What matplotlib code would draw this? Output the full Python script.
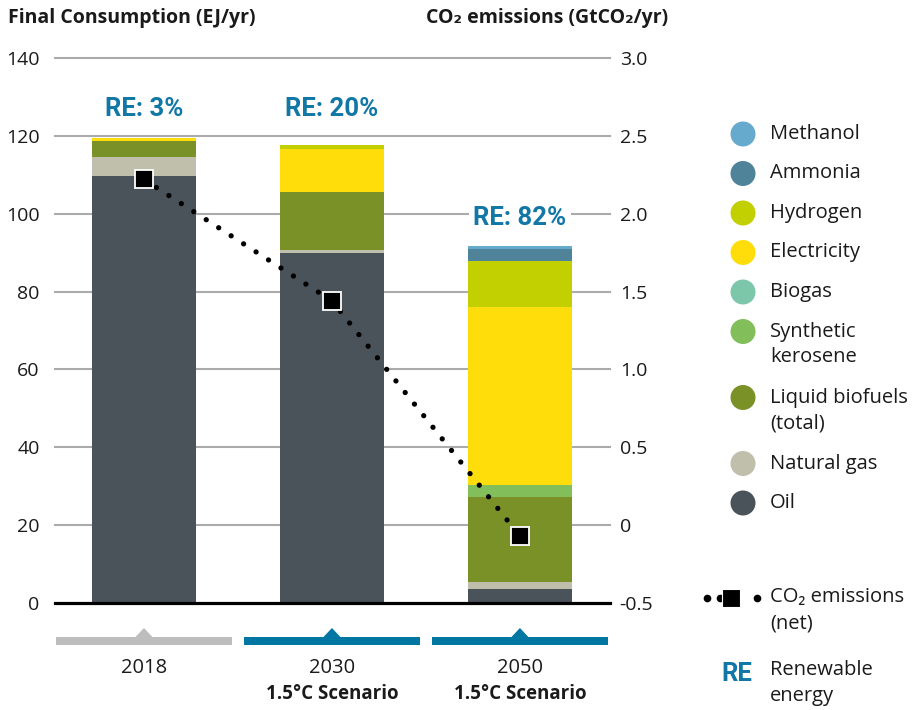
import numpy as np
import matplotlib
matplotlib.use('Agg')
import matplotlib.pyplot as plt
from matplotlib.patches import Rectangle, Polygon, Circle
from matplotlib.transforms import blended_transform_factory

plt.rcParams['font.family'] = ['Open Sans', 'DejaVu Sans']

# ---- data (EJ/yr, stacked bottom to top) ----
categories = ['2018', '2030', '2050']
scenarios = ['', '1.5°C Scenario', '1.5°C Scenario']
oil = [109.6, 90.0, 3.6]
natural_gas = [4.9, 0.7, 1.8]
liquid_biofuels = [4.3, 15.0, 21.8]
synthetic_kerosene = [0.0, 0.0, 3.1]
biogas = [0.0, 0.0, 0.0]
electricity = [0.7, 10.9, 45.8]
hydrogen = [0.0, 1.1, 11.8]
ammonia = [0.0, 0.0, 3.0]
methanol = [0.0, 0.0, 0.8]
co2_net = [2.22, 1.44, -0.07]      # GtCO2/yr
re_share = [3, 20, 82]             # %
bracket_scenario = [False, True, True]

stack = [
    ('Oil', oil, '#4B535A'),
    ('Natural gas', natural_gas, '#BFBFAC'),
    ('Liquid biofuels\n(total)', liquid_biofuels, '#7A9128'),
    ('Synthetic\nkerosene', synthetic_kerosene, '#82BF5B'),
    ('Biogas', biogas, '#7CC6A9'),
    ('Electricity', electricity, '#FEDD0B'),
    ('Hydrogen', hydrogen, '#C2CF00'),
    ('Ammonia', ammonia, '#4E8399'),
    ('Methanol', methanol, '#66AACD'),
]

RE_BLUE = '#1177A6'
BRACKET_BLUE = '#0077A3'
TXT = '#1a1a1a'
re_font = dict(family=['Roboto', 'DejaVu Sans'], fontweight='bold', fontsize=18.5)

W, H = 918, 710
fig = plt.figure(figsize=(W / 100, H / 100), dpi=100)
ax = fig.add_axes([55 / W, 1 - 603 / H, (610 - 55) / W, 545 / H])

x = np.arange(len(categories))
ax.set_xlim(-0.473, 2.479)
ax.set_ylim(0, 140)
for s in ax.spines.values():
    s.set_visible(False)

for v in range(20, 141, 20):
    ax.axhline(v, color='#ABABAB', lw=1.5, zorder=0, clip_on=False)
ax.axhline(0, color='black', lw=2.3, zorder=5, clip_on=False)

bottom = np.zeros(len(categories))
for name, vals, col in stack:
    ax.bar(x, vals, width=0.553, bottom=bottom, color=col, zorder=2, linewidth=0)
    bottom += np.array(vals)

ax.set_xticks([])
ax.set_yticks(range(0, 141, 20))
ax.tick_params(axis='y', length=0, pad=11, labelsize=14, colors=TXT)

# RE share labels above bars
re_label_y = [127, 127, 99]
for i, r in enumerate(re_share):
    ax.text(x[i], re_label_y[i], f'RE: {r}%', ha='center', va='center',
            color=RE_BLUE, zorder=6, bbox=dict(fc='white', ec='none', pad=3), **re_font)

# CO2 emissions on the right axis
ax2 = ax.twinx()
ax2.set_ylim(-0.5, 3.0)
for s in ax2.spines.values():
    s.set_visible(False)
rt = np.arange(-0.5, 3.01, 0.5)
ax2.set_yticks(rt)
ax2.set_yticklabels(['0' if abs(t) < 1e-9 else f'{t:.1f}' for t in rt])
ax2.tick_params(axis='y', length=0, pad=7, labelsize=14, colors=TXT)
ax2.plot(x, co2_net, color='black', lw=3.8, linestyle=(0, (0.01, 2.8)),
         dash_capstyle='round', zorder=3)
ax2.plot(x, co2_net, 's', ms=13.5, mfc='black', mec='white', mew=1.3, lw=0, zorder=4)

# brackets and category labels under the axis
trans = blended_transform_factory(ax.transData, fig.transFigure)
for i, cat in enumerate(categories):
    col = BRACKET_BLUE if bracket_scenario[i] else '#BDBDBD'
    ax.add_patch(Rectangle((x[i] - 0.466, 1 - 645 / H), 0.932, 8 / H,
                           transform=trans, color=col, clip_on=False, lw=0))
    ax.add_patch(Polygon([(x[i] - 0.06, 1 - 640 / H), (x[i], 1 - 628 / H),
                          (x[i] + 0.06, 1 - 640 / H)],
                         transform=trans, color=col, clip_on=False, lw=0))
    ax.text(x[i], 1 - 668 / H, cat, transform=trans, ha='center', va='center',
            fontsize=14.5, color=TXT)
    if scenarios[i]:
        ax.text(x[i], 1 - 694 / H, scenarios[i], transform=trans, ha='center',
                va='center', fontsize=13.5, fontweight='bold', color=TXT)

# axis titles
fig.text(8 / W, 1 - 18 / H, 'Final Consumption (EJ/yr)', fontsize=14,
         fontweight='bold', va='center', color=TXT)
fig.text(668 / W, 1 - 18 / H, 'CO₂ emissions (GtCO₂/yr)', fontsize=14,
         fontweight='bold', va='center', ha='right', color=TXT)

# legend drawn in pixel space
lg = fig.add_axes([0, 0, 1, 1])
lg.set_xlim(0, W)
lg.set_ylim(H, 0)
lg.axis('off')
y = 134
for name, vals, col in stack[::-1]:
    lines = name.split('\n')
    lg.add_patch(Circle((743, y), 12.5, color=col, lw=0))
    for k, ln in enumerate(lines):
        lg.text(770, y + 26 * k, ln, va='center', fontsize=14.5, color=TXT)
    y += 39.5 + 26.5 * (len(lines) - 1)

lg.plot([707, 720, 757], [598, 598, 598], 'o', ms=4.5, color='black')
lg.plot([731], [598], 's', ms=13, color='black', mec='white', mew=0.8)
lg.text(770, 597, 'CO₂ emissions', va='center', fontsize=14.5, color=TXT)
lg.text(770, 623, '(net)', va='center', fontsize=14.5, color=TXT)
lg.text(721, 674, 'RE', va='center', ha='left', color=RE_BLUE, **re_font)
lg.text(770, 670, 'Renewable', va='center', fontsize=14.5, color=TXT)
lg.text(770, 696, 'energy', va='center', fontsize=14.5, color=TXT)

fig.savefig('out.png', dpi=100)
